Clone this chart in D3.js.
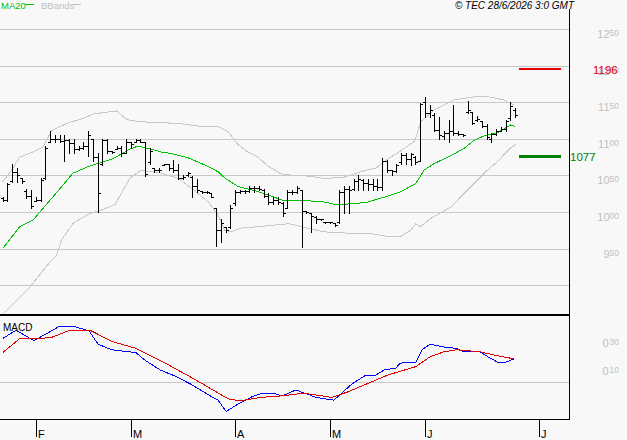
<!DOCTYPE html>
<html><head><meta charset="utf-8">
<script src="https://cdn.jsdelivr.net/npm/d3@7"></script>
<style>
html,body{margin:0;padding:0;background:#f8f8f8;}
svg{display:block;}
text{font-family:"Liberation Sans",Arial,sans-serif;}
</style></head><body>
<svg id="c" width="627" height="440"></svg>
<script>
// ---------- DATA ----------
const high = [1020,1040,1066,1060,1046,1031,1030,1020,1046,1090,
1111,1105,1105,1105,1100,1100,1090,1095,1111,1100,
1080,1100,1100,1083,1090,1090,1100,1096,1100,1100,
1096,1087,1060,1060,1066,1066,1071,1066,1050,1055,
1049,1045,1029,1029,1026,1005,991,980,1010,1030,
1030,1030,1035,1035,1035,1032,1026,1020,1020,1014,
1030,1030,1035,1030,1001,999,994,991,987,987,
985,1030,1035,1035,1045,1050,1045,1045,1045,1045,
1074,1071,1058,1066,1080,1080,1081,1076,1149,1157,
1146,1135,1130,1111,1126,1146,1111,1106,1151,1136,
1131,1125,1120,1108,1113,1116,1126,1150,1142];
const low = [1015,1015,1041,1041,1040,1019,1005,1015,1015,1045,
1095,1095,1095,1070,1080,1080,1085,1086,1076,1070,
1000,1064,1080,1081,1086,1076,1080,1087,1095,1095,
1049,1066,1055,1055,1064,1057,1055,1045,1045,1049,
1020,1028,1026,1026,1020,953,959,973,978,1010,
1026,1026,1028,1028,1030,1020,1011,1011,1011,995,
1005,1025,1026,952,999,973,985,989,985,985,
981,985,999,999,1030,1030,1030,1030,1030,1030,
1030,1055,1050,1055,1066,1066,1064,1066,1070,1130,
1130,1110,1100,1100,1095,1105,1105,1104,1135,1120,
1125,1116,1100,1095,1105,1110,1110,1126,1130];
const open = [1019,1016,1043,1055,1046,1029,1022,1015,1017,1046,
1096,1100,1100,1097,1098,1094,1086,1087,1090,1100,
1075,1066,1098,1083,1086,1088,1080,1095,1096,1099,
1095,1068,1060,1058,1064,1065,1060,1057,1047,1050,
1048,1035,1029,1027,1026,1005,975,979,980,1012,
1028,1029,1029,1033,1033,1030,1022,1014,1016,1012,
1006,1028,1028,1030,1001,998,993,990,987,986,
985,986,1028,1032,1032,1042,1044,1040,1038,1036,
1034,1070,1057,1056,1068,1078,1072,1075,1070,1150,
1135,1133,1112,1104,1108,1110,1108,1106,1137,1136,
1126,1124,1118,1100,1106,1111,1114,1128,1140];
const close = [1016,1038,1055,1050,1042,1022,1008,1017,1044,1088,
1100,1100,1097,1098,1094,1086,1087,1090,1105,1075,
1026,1098,1083,1082,1088,1080,1095,1093,1099,1096,
1052,1084,1058,1057,1065,1060,1057,1047,1048,1053,
1035,1030,1027,1027,1021,975,985,975,1005,1028,
1029,1029,1033,1033,1032,1022,1014,1016,1013,998,
1028,1028,1033,1001,1000,995,990,990,986,986,
982,1028,1032,1030,1042,1045,1040,1038,1036,1034,
1070,1058,1056,1064,1078,1072,1079,1068,1147,1135,
1140,1112,1105,1108,1110,1108,1106,1105,1140,1122,
1127,1118,1102,1106,1111,1114,1124,1145,1132];

const maIdx = [0,3.6,6.4,8.5,12.1,14.8,18.4,20.5,23.3,26.8,28.5,30.6,33.4,35.5,39.1,42.7,45.4,46.9,49.6,53.8,59.1,62.5,67.5,70.3,73,76.6,80.8,84,87.1,88.8,90.9,94.5,97.3,99.4,101.5,104.2,106.3,107.1,108];
const maVal = [950,980,989,1005,1032,1053,1063,1067,1073,1086,1090,1087,1082,1080,1074,1064,1055,1046,1035,1028,1016,1016,1014,1010,1011,1013,1021,1028,1039,1057,1066,1077,1087,1098,1104,1108,1116,1119,1117];

const upIdx = [0,2.2,3.6,6.4,8.5,10.3,13.5,17,19.1,24,25.8,26.8,29.9,37,41.8,45.4,47.5,49.6,51.7,53.8,56.1,58.7,61.1,64.6,67.5,71.7,74.5,76.6,78.7,80.8,83.1,86.7,87.4,88.1,90.9,95.1,100,102.9,105.7,107.8];
const upVal = [1041,1060,1075,1082,1089,1111,1121,1128,1134,1138,1128,1125,1123,1121,1117,1117,1110,1092,1082,1075,1062,1052,1050,1049,1046,1047,1053,1057,1060,1071,1080,1096,1107,1123,1139,1153,1158,1157,1153,1146];

const loIdx = [0.3,5.8,10,11.4,12.4,14.9,18.4,20.5,23.7,25.4,26.8,29.1,33.4,37,40.1,43.3,45.4,46.8,48.2,50.3,53.8,60.4,67.5,73,78,80.8,84,86,87.1,88.1,90.2,94.5,98,101.5,104.3,107.1,108.2];
const loVal = [862,898,932,941,962,985,998,1002,1010,1030,1046,1057,1053,1046,1031,1014,996,975,973,978,980,984,973,971,970,967,967,975,984,980,991,1007,1030,1053,1069,1088,1092];

const macdIdx = [0,2.8,6.6,12.1,14.6,18.2,20.1,23,28.1,29.8,33.2,36.5,39.9,43.3,45.4,47.1,50,52.6,54.7,57.2,58.9,61.8,66.1,69.8,73.6,76.6,78.7,80.4,82.9,83.8,87.1,88.4,90.1,93,95.6,97.3,100.6,102.3,104.4,105.9,107.8];
const macdVal = [0.31,0.37,0.295,0.40,0.40,0.366,0.27,0.23,0.21,0.16,0.086,0.04,-0.02,-0.09,-0.13,-0.21,-0.15,-0.105,-0.08,-0.08,-0.10,-0.057,-0.11,-0.13,-0.015,0.05,0.05,0.086,0.10,0.135,0.14,0.23,0.27,0.25,0.24,0.216,0.216,0.18,0.14,0.14,0.165];

const sigIdx = [0,3.6,7.9,10.4,14.2,18.4,23,28.1,34,39.9,45,47.5,50,54.3,58.5,63.5,69.4,72.8,77,81.2,87.1,90.1,93,95.6,100.6,104,107.8];
const sigVal = [0.21,0.31,0.31,0.32,0.37,0.37,0.29,0.24,0.14,0.03,-0.07,-0.12,-0.135,-0.11,-0.10,-0.08,-0.11,-0.07,-0.01,0.05,0.11,0.18,0.216,0.23,0.216,0.19,0.165];

const monthIdx = [7,27,49,69,89,113];
const monthLabels = ["F","M","A","M","J","J"];
const gridPrices = [1250,1200,1150,1100,1050,1000,950,900];
const priceTicks = [1250,1200,1150,1100,1050,1000,950];
const priceTickLabels = ["1250","1200","1150","1100","1050","1000","950"];
const macdTicks = [0.30,0.10];
const macdTickMain = ["0","0"];
const macdTickSup = ["30","10"];
const resistance = 1196, support = 1077;

// ---------- SCALES ----------
const svg = d3.select("#c");
const W = 627, H = 440;
const plotRight = 569;
const x = d3.scaleLinear().domain([0,108]).range([2.7,515]);
const y = d3.scaleLinear().domain([1000,1250]).range([212,29]);
const ym = d3.scaleLinear().domain([0,0.3]).range([382,340]);

svg.append("rect").attr("width",W).attr("height",H).attr("fill","#f8f8f8");

const defs = svg.append("defs");
defs.append("clipPath").attr("id","cm").append("rect").attr("x",0).attr("y",9).attr("width",plotRight).attr("height",305);
defs.append("clipPath").attr("id","cd").append("rect").attr("x",0).attr("y",316).attr("width",plotRight).attr("height",103);

// grid
svg.append("g").selectAll("line").data(gridPrices).join("line")
  .attr("x1",0).attr("x2",plotRight)
  .attr("y1",d=>Math.round(y(d))+0.5).attr("y2",d=>Math.round(y(d))+0.5)
  .attr("stroke","#c8c8c8").attr("stroke-width",1);

const main = svg.append("g").attr("clip-path","url(#cm)");
const lineGen = (xs, ys, sy) => d3.line().x((d,i)=>x(xs[i])).y((d,i)=>sy(ys[i]))(xs);

main.append("path").attr("d",lineGen(upIdx,upVal,y)).attr("fill","none").attr("stroke","#c8c8c8").attr("stroke-width",1).attr("shape-rendering","crispEdges");
main.append("path").attr("d",lineGen(loIdx,loVal,y)).attr("fill","none").attr("stroke","#c8c8c8").attr("stroke-width",1).attr("shape-rendering","crispEdges");
main.append("path").attr("d",lineGen(maIdx,maVal,y)).attr("fill","none").attr("stroke","#00c000").attr("stroke-width",1).attr("shape-rendering","crispEdges");

// OHLC bars
const idx = d3.range(high.length);
const bars = main.append("g").attr("fill","#000").attr("shape-rendering","crispEdges");
idx.forEach(i=>{
  const xi = Math.round(x(i));
  const yh = Math.round(y(high[i])), yl = Math.round(y(low[i]));
  bars.append("rect").attr("x",xi).attr("y",yh).attr("width",1).attr("height",Math.max(1,yl-yh+1));
  bars.append("rect").attr("x",xi-2).attr("y",Math.round(y(open[i]))).attr("width",2).attr("height",1);
  bars.append("rect").attr("x",xi+1).attr("y",Math.round(y(close[i]))).attr("width",2).attr("height",1);
});

// support / resistance
svg.append("rect").attr("x",519).attr("y",Math.round(y(resistance))-1).attr("width",42).attr("height",2).attr("fill","#e00000");
svg.append("rect").attr("x",519).attr("y",Math.round(y(support))-1).attr("width",42).attr("height",3).attr("fill","#008000");
svg.append("text").attr("x",593).attr("y",Math.round(y(resistance))+5).attr("font-size",11.5).attr("fill","#e00000").text(String(resistance));
svg.append("text").attr("x",570).attr("y",Math.round(y(support))+5).attr("font-size",11.5).attr("fill","#008000").text(String(support));

// price axis labels
priceTicks.forEach((v,k)=>{
  const lab = priceTickLabels[k];
  const t = svg.append("text").attr("x",619).attr("y",Math.round(y(v))+9).attr("text-anchor","end").attr("fill","#c0c0c0").attr("font-size",11);
  t.append("tspan").text(lab.slice(0,lab.length-2));
  t.append("tspan").attr("font-size",8.5).attr("dy",-2).text(lab.slice(-2));
});

// red resistance label drawn above 1200 label
svg.selectAll("text").filter(function(){return this.textContent===String(resistance);}).raise();

// MACD panel
svg.append("line").attr("x1",0).attr("x2",plotRight).attr("y1",Math.round(ym(0))+0.5).attr("y2",Math.round(ym(0))+0.5).attr("stroke","#c8c8c8");
const mp = svg.append("g").attr("clip-path","url(#cd)");
mp.append("path").attr("d",lineGen(macdIdx,macdVal,ym)).attr("fill","none").attr("stroke","#0000ff").attr("stroke-width",1).attr("shape-rendering","crispEdges");
mp.append("path").attr("d",lineGen(sigIdx,sigVal,ym)).attr("fill","none").attr("stroke","#e00000").attr("stroke-width",1).attr("shape-rendering","crispEdges");
svg.append("text").attr("x",3).attr("y",331).attr("font-size",10).attr("fill","#000").text("MACD");

macdTicks.forEach((v,k)=>{
  const t = svg.append("text").attr("x",619).attr("y",Math.round(ym(v))+7).attr("text-anchor","end").attr("fill","#c0c0c0").attr("font-size",11);
  t.append("tspan").text(macdTickMain[k]);
  t.append("tspan").attr("font-size",8.5).attr("dx",1).attr("dy",-2).text(macdTickSup[k]);
});

// frame
svg.append("rect").attr("x",0).attr("y",314).attr("width",plotRight+1).attr("height",2).attr("fill","#000");
svg.append("rect").attr("x",0).attr("y",419).attr("width",plotRight+1).attr("height",1).attr("fill","#000");
svg.append("rect").attr("x",plotRight).attr("y",9).attr("width",1).attr("height",411).attr("fill","#000");

// x axis month ticks
const xa = svg.append("g");
monthIdx.forEach((m,k)=>{
  const xm = Math.round(x(m));
  xa.append("rect").attr("x",xm).attr("y",419).attr("width",1).attr("height",18).attr("fill","#000");
  xa.append("text").attr("x",xm+2).attr("y",438).attr("font-size",11).attr("fill","#000").text(monthLabels[k]);
});

// legend
svg.append("text").attr("x",1).attr("y",9).attr("font-size",9.5).attr("fill","#00c000").text("MA20");
svg.append("rect").attr("x",25).attr("y",4).attr("width",9).attr("height",1).attr("fill","#00c000");
svg.append("text").attr("x",41).attr("y",9).attr("font-size",9.5).attr("fill","#c0c0c0").text("BBands");
svg.append("rect").attr("x",72).attr("y",4).attr("width",9).attr("height",1).attr("fill","#c0c0c0");

svg.append("text").attr("x",574).attr("y",9).attr("text-anchor","end").attr("font-size",10).attr("font-style","italic").attr("fill","#000").text("© TEC 28/6/2026 3:0 GMT");
</script>
</body></html>
